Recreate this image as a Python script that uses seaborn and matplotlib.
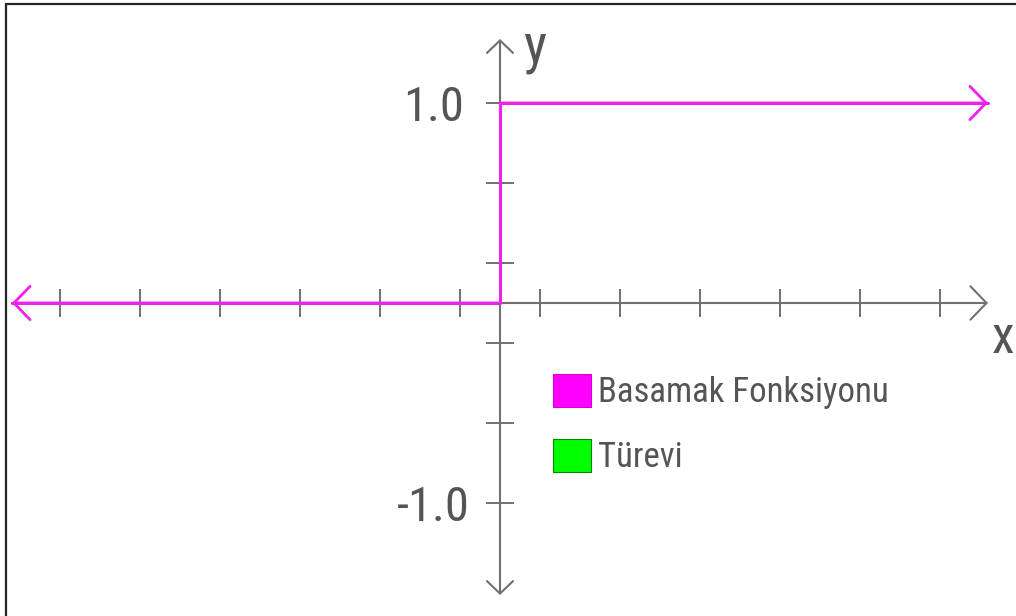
import matplotlib
matplotlib.use("Agg")
import matplotlib.pyplot as plt
from matplotlib.lines import Line2D
from matplotlib.patches import Patch
import pandas as pd
import seaborn as sns

# Unit step function: 0 for x < 0, 1 for x > 0
step_x = [-6.1, 0.0, 0.0, 6.1]
step_y = [0.0, 0.0, 1.0, 1.0]

# Coordinate axes extents (arrow tips)
x_axis_range = [-6.1, 6.1]
y_axis_range = [-1.46, 1.32]

x_ticks = [-5.5, -4.5, -3.5, -2.5, -1.5, -0.5, 0.5, 1.5, 2.5, 3.5, 4.5, 5.5]
y_ticks = [-1.0, -0.6, -0.2, 0.2, 0.6, 1.0]
y_tick_labels = ["-1.0", "", "", "", "", "1.0"]

legend_labels = ["Basamak Fonksiyonu", "Türevi"]
legend_colors = ["#ff00ff", "#00ff00"]
legend_edges = ["#d000d0", "#008800"]

STEP_COLOR = "#ee22ee"
AXIS_COLOR = "#707070"
TEXT_COLOR = "#555555"

sns.set_style("white")
plt.rcParams["font.family"] = ["Roboto Condensed", "Liberation Sans", "DejaVu Sans"]

fig = plt.figure(figsize=(10.16, 6.16), dpi=100)
ax = fig.add_axes([0, 0, 1, 1])
ax.set_xlim(-6.25, 6.45)
ax.set_ylim(-1.565, 1.515)

# Axis lines with open arrowheads
ax.annotate("", xy=(x_axis_range[1], 0), xytext=(x_axis_range[0], 0),
            arrowprops=dict(arrowstyle="->,head_length=0.58,head_width=0.6",
                            color=AXIS_COLOR, lw=1.5, shrinkA=0, shrinkB=0,
                            mutation_scale=20), zorder=1)
ax.annotate("", xy=(0, y_axis_range[1]), xytext=(0, y_axis_range[0]),
            arrowprops=dict(arrowstyle="<->,head_length=0.45,head_width=0.47",
                            color=AXIS_COLOR, lw=1.5, shrinkA=0, shrinkB=0,
                            mutation_scale=20), zorder=1)

# Step function
df = pd.DataFrame({"x": step_x, "y": step_y})
sns.lineplot(data=df, x="x", y="y", sort=False, estimator=None,
             color=STEP_COLOR, linewidth=2.2, ax=ax, zorder=3)
for tail, tip in [(1, 0), (2, 3)]:
    ax.annotate("", xy=(step_x[tip], step_y[tip]), xytext=(step_x[tail], step_y[tail]),
                arrowprops=dict(arrowstyle="->,head_length=0.58,head_width=0.6",
                                color=STEP_COLOR, lw=2.0, shrinkA=0, shrinkB=0,
                                mutation_scale=20), zorder=3)

# Ticks crossing the axes at the origin
for side in ["left", "bottom"]:
    ax.spines[side].set_position(("data", 0))
for s in ax.spines.values():
    s.set_visible(False)
ax.set_xticks(x_ticks, [""] * len(x_ticks))
ax.set_yticks(y_ticks, y_tick_labels)
ax.tick_params(axis="both", which="major", direction="inout", length=20, width=1.4,
               color=AXIS_COLOR, bottom=True, left=True, top=False, right=False)
ax.tick_params(axis="y", pad=38, labelsize=35, labelcolor=TEXT_COLOR)
for lab in ax.get_yticklabels():
    lab.set_horizontalalignment("center")
ax.set_xlabel("")
ax.set_ylabel("")

# Axis names
ax.text(0.29, 1.205, "y", fontsize=40, color=TEXT_COLOR, ha="left", va="baseline")
ax.text(6.14, -0.25, "x", fontsize=37, color=TEXT_COLOR, ha="left", va="baseline")

# Legend
handles = [Patch(facecolor=c, edgecolor=e, linewidth=0.8, label=l)
           for l, c, e in zip(legend_labels, legend_colors, legend_edges)]
leg = ax.legend(handles=handles, loc="upper left",
                bbox_to_anchor=(553 / 1016, 1 - 374 / 616), bbox_transform=fig.transFigure,
                frameon=False, fontsize=25, handlelength=1.1, handleheight=1.1,
                handletextpad=0.2, labelspacing=0.85, borderpad=0, borderaxespad=0)
for t in leg.get_texts():
    t.set_color(TEXT_COLOR)

# Frame lines along the top and left edges
fig.add_artist(Line2D([6 / 1016, 1], [1 - 4 / 616, 1 - 4 / 616], transform=fig.transFigure,
                      color="#262626", lw=1.6))
fig.add_artist(Line2D([6 / 1016, 6 / 1016], [0, 1 - 4 / 616], transform=fig.transFigure,
                      color="#262626", lw=1.6))

fig.savefig("out.png", dpi=100, facecolor="white")
